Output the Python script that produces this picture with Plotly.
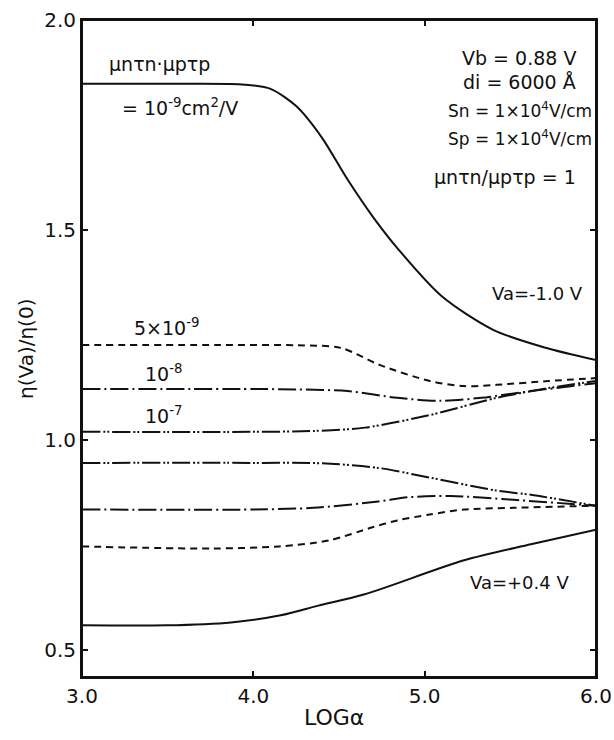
import plotly.graph_objects as go

# LOG(alpha) sample points and eta(Va)/eta(0) values for each curve
# Va = -1.0 V family
x_m1_1e9 = [3.0, 3.6, 3.95, 4.1, 4.25, 4.4, 4.55, 4.7, 4.85, 5.1, 5.4, 5.7, 6.0]
y_m1_1e9 = [1.848, 1.848, 1.846, 1.836, 1.795, 1.72, 1.62, 1.53, 1.452, 1.342, 1.262, 1.22, 1.19]

x_m1_5e9 = [3.0, 3.8, 4.26, 4.51, 4.74, 5.03, 5.23, 5.42, 5.72, 6.0]
y_m1_5e9 = [1.226, 1.226, 1.225, 1.219, 1.178, 1.140, 1.128, 1.131, 1.140, 1.147]

x_m1_1e8 = [3.0, 4.0, 4.26, 4.55, 4.84, 5.09, 5.33, 5.62, 6.0]
y_m1_1e8 = [1.121, 1.121, 1.120, 1.116, 1.100, 1.093, 1.100, 1.116, 1.135]

x_m1_1e7 = [3.0, 4.0, 4.35, 4.65, 5.03, 5.42, 5.72, 6.0]
y_m1_1e7 = [1.019, 1.019, 1.021, 1.029, 1.059, 1.100, 1.123, 1.140]

# Va = +0.4 V family
x_p4_1e7 = [3.0, 4.0, 4.4, 4.73, 5.03, 5.42, 5.62, 6.0]
y_p4_1e7 = [0.945, 0.945, 0.944, 0.933, 0.910, 0.879, 0.869, 0.843]

x_p4_1e8 = [3.0, 4.0, 4.35, 4.73, 4.9, 5.15, 5.52, 6.0]
y_p4_1e8 = [0.834, 0.834, 0.838, 0.853, 0.863, 0.866, 0.857, 0.843]

x_p4_5e9 = [3.0, 3.76, 4.15, 4.44, 4.69, 4.84, 5.03, 5.23, 5.52, 6.0]
y_p4_5e9 = [0.746, 0.741, 0.746, 0.760, 0.791, 0.808, 0.822, 0.834, 0.838, 0.843]

x_p4_1e9 = [3.0, 3.49, 3.87, 4.16, 4.38, 4.65, 5.23, 5.62, 6.0]
y_p4_1e9 = [0.558, 0.558, 0.565, 0.582, 0.605, 0.632, 0.713, 0.751, 0.786]

x_ticks = [3.0, 4.0, 5.0, 6.0]
x_tick_text = ["3.0", "4.0", "5.0", "6.0"]
y_ticks = [0.5, 1.0, 1.5, 2.0]
y_tick_text = ["0.5", "1.0", "1.5", "2.0"]

SOLID = "solid"
DASH = "7px,5px"
DASH_DOT = "18px,4px,2px,4px"
DASH_DOT_DOT = "18px,3px,2px,2px,2px,3px"

curves = [
    (x_m1_1e9, y_m1_1e9, SOLID),
    (x_m1_5e9, y_m1_5e9, DASH),
    (x_m1_1e8, y_m1_1e8, DASH_DOT),
    (x_m1_1e7, y_m1_1e7, DASH_DOT_DOT),
    (x_p4_1e7, y_p4_1e7, DASH_DOT_DOT),
    (x_p4_1e8, y_p4_1e8, DASH_DOT),
    (x_p4_5e9, y_p4_5e9, DASH),
    (x_p4_1e9, y_p4_1e9, SOLID),
]

fig = go.Figure()
for xs, ys, dash in curves:
    fig.add_trace(go.Scatter(
        x=xs, y=ys, mode="lines",
        line=dict(color="#111111", width=2, dash=dash, shape="spline", smoothing=0.8),
        showlegend=False, hoverinfo="skip",
    ))

FONT = "DejaVu Sans"
W, H = 614, 740
L, R, T, B = 82, 18, 20, 63
X0, X1 = 3.0, 6.0
Y0, Y1 = 0.435, 2.0


def px(xp, yp):
    """Convert page pixel position to data coordinates."""
    x = X0 + (xp - L) / (W - L - R) * (X1 - X0)
    y = Y0 + (H - B - yp) / (H - T - B) * (Y1 - Y0)
    return x, y


def label(text, xp, yp, size=19, anchor="left"):
    x, y = px(xp, yp)
    fig.add_annotation(x=x, y=y, text=text, showarrow=False, xanchor=anchor,
                       yanchor="middle", font=dict(family=FONT, size=size, color="#111111"))


label("μnτn·μpτp", 107, 64)
label("= 10<sup>-9</sup>cm<sup>2</sup>/V", 120, 107)

label("Vb = 0.88 V", 578, 58, anchor="right")
label("di = 6000 Å", 578, 82, anchor="right")
label("Sn = 1×10<sup>4</sup>V/cm", 594, 110, size=17, anchor="right")
label("Sp = 1×10<sup>4</sup>V/cm", 594, 138, size=17, anchor="right")
label("μnτn/μpτp = 1", 578, 177, anchor="right")

label("Va=-1.0 V", 490, 293, size=18)
label("5×10<sup>-9</sup>", 132, 327)
label("10<sup>-8</sup>", 143, 373)
label("10<sup>-7</sup>", 143, 415)
label("Va=+0.4 V", 468, 582, size=18)

# axis titles
fig.add_annotation(xref="paper", yref="paper", x=-0.11, y=0.5, text="η(Va)/η(0)",
                   textangle=-90, showarrow=False, xanchor="center", yanchor="middle",
                   font=dict(family=FONT, size=20, color="#111111"))
fig.add_annotation(xref="paper", yref="paper", x=0.49, y=-0.062, text="LOGα",
                   showarrow=False, xanchor="center", yanchor="middle",
                   font=dict(family=FONT, size=22, color="#111111"))

# closed frame around the plotting area
fig.add_shape(type="rect", xref="paper", yref="paper", x0=0, x1=1, y0=0, y1=1,
              line=dict(color="#111111", width=2), fillcolor="rgba(0,0,0,0)", layer="above")

axis_common = dict(
    showgrid=False, zeroline=False, showline=True, linecolor="#111111", linewidth=2,
    mirror="ticks", ticks="inside", ticklen=6, tickwidth=2, tickcolor="#111111",
    ticklabeloverflow="allow", automargin=False,
    tickfont=dict(family=FONT, size=20, color="#111111"),
)
fig.update_xaxes(range=[X0, X1], tickvals=x_ticks, ticktext=x_tick_text, **axis_common)
fig.update_yaxes(range=[Y0, Y1], tickvals=y_ticks, ticktext=y_tick_text, **axis_common)

fig.update_layout(
    width=W, height=H,
    margin=dict(l=L, r=R, t=T, b=B, autoexpand=False),
    paper_bgcolor="white", plot_bgcolor="white",
)

fig.write_html("out.html")
